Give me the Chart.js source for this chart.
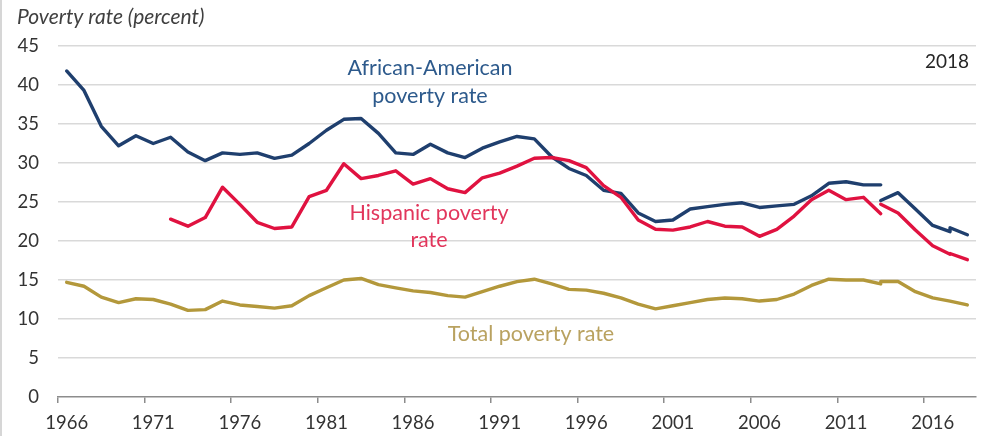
<!DOCTYPE html>
<html>
<head>
<meta charset="utf-8">
<script src="https://cdn.jsdelivr.net/npm/chart.js@4.4.1/dist/chart.umd.min.js"></script>
<style>
  html, body { margin: 0; padding: 0; background: #fff; }
  #wrap { width: 992px; height: 436px; position: relative; }
</style>
</head>
<body>
<div id="wrap"><canvas id="poverty-chart"></canvas></div>
<script>
// Years on the category axis
const years = [
  '1966', '1967', '1968', '1969', '1970', '1971', '1972', '1973', '1974', '1975',
  '1976', '1977', '1978', '1979', '1980', '1981', '1982', '1983', '1984', '1985',
  '1986', '1987', '1988', '1989', '1990', '1991', '1992', '1993', '1994', '1995',
  '1996', '1997', '1998', '1999', '2000', '2001', '2002', '2003', '2004', '2005',
  '2006', '2007', '2008', '2009', '2010', '2011', '2012', '2013', '2014', '2015',
  '2016', '2017', '2018'
];

// Rates up to 2013 (old survey questions), 1966-2013
const blackRate = [
  41.8, 39.3, 34.7, 32.2, 33.5, 32.5, 33.3, 31.4, 30.3, 31.3,
  31.1, 31.3, 30.6, 31.0, 32.5, 34.2, 35.6, 35.7, 33.8, 31.3,
  31.1, 32.4, 31.3, 30.7, 31.9, 32.7, 33.4, 33.1, 30.8, 29.3,
  28.4, 26.5, 26.1, 23.6, 22.5, 22.7, 24.1, 24.4, 24.7, 24.9,
  24.3, 24.5, 24.7, 25.8, 27.4, 27.6, 27.2, 27.2
];
const hispanicRate = [
  null, null, null, null, null, null, 22.8, 21.9, 23.0, 26.9,
  24.7, 22.4, 21.6, 21.8, 25.7, 26.5, 29.9, 28.0, 28.4, 29.0,
  27.3, 28.0, 26.7, 26.2, 28.1, 28.7, 29.6, 30.6, 30.7, 30.3,
  29.4, 27.1, 25.6, 22.7, 21.5, 21.4, 21.8, 22.5, 21.9, 21.8,
  20.6, 21.5, 23.2, 25.3, 26.5, 25.3, 25.6, 23.5
];
const totalRate = [
  14.7, 14.2, 12.8, 12.1, 12.6, 12.5, 11.9, 11.1, 11.2, 12.3,
  11.8, 11.6, 11.4, 11.7, 13.0, 14.0, 15.0, 15.2, 14.4, 14.0,
  13.6, 13.4, 13.0, 12.8, 13.5, 14.2, 14.8, 15.1, 14.5, 13.8,
  13.7, 13.3, 12.7, 11.9, 11.3, 11.7, 12.1, 12.5, 12.7, 12.6,
  12.3, 12.5, 13.2, 14.3, 15.1, 15.0, 15.0, 14.5
];

// Redesigned survey from 2013 on; 2017 has two estimates
const newYears = ['2013', '2014', '2015', '2016', '2017', '2017', '2018'];
const blackNew = [25.2, 26.2, 24.1, 22.0, 21.2, 21.7, 20.8];
const hispanicNew = [24.7, 23.6, 21.4, 19.4, 18.3, 18.4, 17.6];
const totalNew = [14.8, 14.8, 13.5, 12.7, 12.3, 12.3, 11.8];

const yTicks = [0, 5, 10, 15, 20, 25, 30, 35, 40, 45];

const NAVY = '#1f3f6e';
const RED = '#e01240';
const GOLD = '#b3983b';
const FONT = 'Lato, "Open Sans", sans-serif';

function pairUp(xs, ys) {
  return xs.map((x, i) => ({ x: x, y: ys[i] }));
}

function lineSet(label, data, color) {
  return {
    label: label,
    data: data,
    borderColor: color,
    backgroundColor: color,
    borderWidth: 3.4,
    pointRadius: 0,
    pointHoverRadius: 0,
    tension: 0,
    fill: false,
    borderJoinStyle: 'round',
    borderCapStyle: 'round',
    spanGaps: false
  };
}

// Series names and notes written on the chart
const notes = {
  id: 'notes',
  afterDraw(chart) {
    const ctx = chart.ctx;
    ctx.save();

    // thin frame line on the left edge
    ctx.strokeStyle = '#d6d6d6';
    ctx.lineWidth = 2;
    ctx.beginPath();
    ctx.moveTo(1, 0);
    ctx.lineTo(1, chart.height);
    ctx.stroke();

    ctx.textBaseline = 'middle';

    ctx.textAlign = 'left';
    ctx.fillStyle = '#404040';
    ctx.font = 'italic 21px ' + FONT;
    ctx.fillText('Poverty rate (percent)', 17, 17);

    ctx.textAlign = 'center';
    ctx.font = '21.5px ' + FONT;

    ctx.fillStyle = '#2d5a8c';
    ctx.fillText('African-American', 430, 68);
    ctx.fillText('poverty rate', 430, 96);

    ctx.fillStyle = '#e2365c';
    ctx.fillText('Hispanic poverty', 429, 213);
    ctx.fillText('rate', 429, 240);

    ctx.fillStyle = '#b9a260';
    ctx.fillText('Total poverty rate', 531, 334);

    ctx.fillStyle = '#262626';
    ctx.font = '19px ' + FONT;
    ctx.fillText('2018', 947, 62);

    ctx.restore();
  }
};

new Chart(document.getElementById('poverty-chart'), {
  type: 'line',
  data: {
    labels: years,
    datasets: [
      lineSet('Hispanic', hispanicRate, RED),
      lineSet('Hispanic (new)', pairUp(newYears, hispanicNew), RED),
      lineSet('African-American', blackRate, NAVY),
      lineSet('African-American (new)', pairUp(newYears, blackNew), NAVY),
      lineSet('Total', totalRate, GOLD),
      lineSet('Total (new)', pairUp(newYears, totalNew), GOLD)
    ]
  },
  options: {
    responsive: true,
    maintainAspectRatio: false,
    animation: false,
    layout: { padding: { top: 46, right: 16, bottom: 0, left: 0 } },
    plugins: {
      legend: { display: false },
      tooltip: { enabled: false },
      title: { display: false }
    },
    scales: {
      x: {
        type: 'category',
        offset: true,
        afterFit(scale) { scale.height = 39; },
        grid: {
          offset: true,
          drawOnChartArea: false,
          drawTicks: true,
          tickLength: 6,
          color: (c) => (c.index % 5 === 0 && c.index <= 50) ? '#8c8c8c' : 'rgba(0,0,0,0)',
          tickColor: (c) => (c.index % 5 === 0 && c.index <= 50) ? '#8c8c8c' : 'rgba(0,0,0,0)',
          lineWidth: 1.5
        },
        border: { display: true, color: '#8c8c8c', width: 1.5 },
        ticks: {
          autoSkip: false,
          maxRotation: 0,
          padding: 9,
          color: '#333333',
          font: { family: FONT, size: 18.5 },
          callback(value, index) {
            return index % 5 === 0 ? years[index] : '';
          }
        }
      },
      y: {
        min: 0,
        max: 45,
        afterFit(scale) { scale.width = 58; },
        afterBuildTicks(scale) {
          scale.ticks = yTicks.map(v => ({ value: v }));
        },
        grid: {
          drawTicks: false,
          color: (c) => c.tick && c.tick.value === 0 ? 'rgba(0,0,0,0)' : '#d9d9d9',
          lineWidth: 1.5
        },
        border: { display: false },
        ticks: {
          padding: 19,
          color: '#333333',
          font: { family: FONT, size: 18.5 }
        }
      }
    }
  },
  plugins: [notes]
});
</script>
</body>
</html>
